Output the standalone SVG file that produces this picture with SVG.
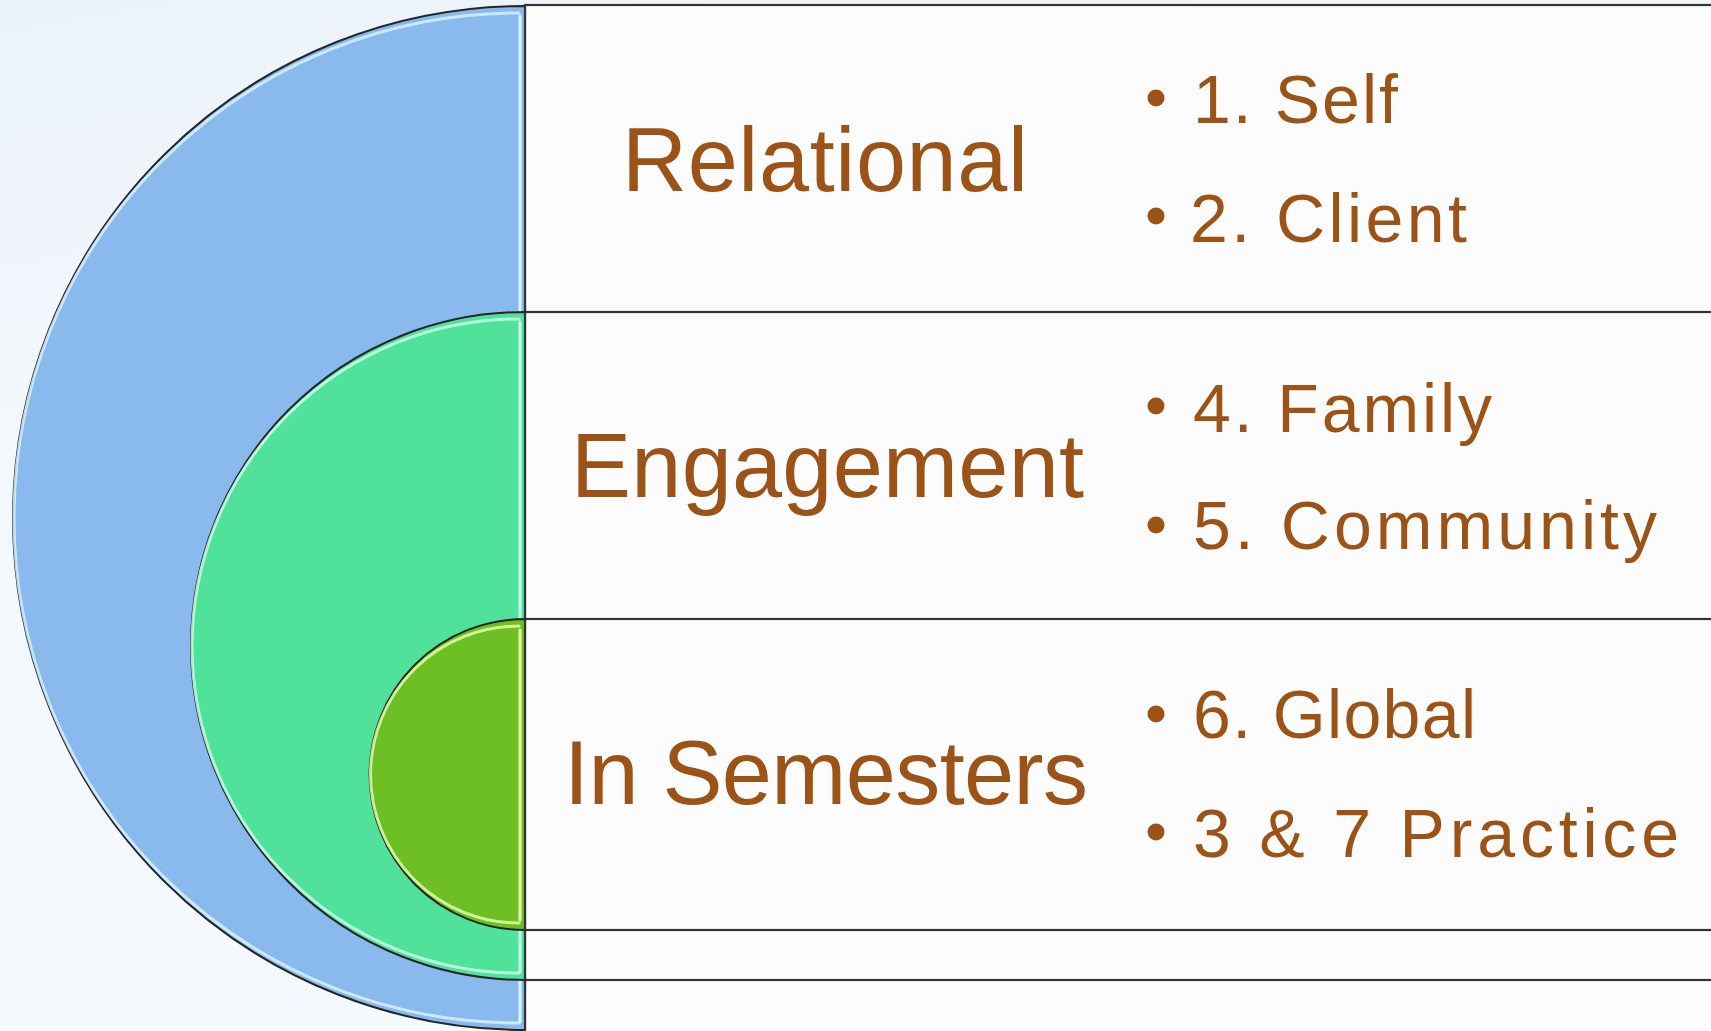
<svg xmlns="http://www.w3.org/2000/svg" width="1711" height="1031" viewBox="0 0 1711 1031">
<defs>
<linearGradient id="bg" x1="0" y1="0" x2="0.3" y2="1">
<stop offset="0" stop-color="#ebf2f9"/>
<stop offset="0.4" stop-color="#f3f8fc"/>
<stop offset="1" stop-color="#f6f9fd"/>
</linearGradient>
<style>
.box{fill:#fcfcfc;stroke:#333;stroke-width:2.2}
.edge{stroke:#262626;stroke-width:2}
.hl{fill:none;stroke-width:3;stroke-linecap:round}
.lbl{font-family:"Liberation Sans",Arial,sans-serif;font-size:90px;fill:#9b5317}
.item{font-family:"Liberation Sans",Arial,sans-serif;font-size:68px;fill:#9b5317}
.dot{fill:#9b5317}
</style>
</defs>
<rect x="0" y="0" width="1711" height="1031" fill="url(#bg)"/>

<g id="node-relational">
<rect class="box" x="525" y="5" width="1200" height="1040"/>
<path class="edge" d="M525,6 A512,512 0 0 0 525,1030 Z" fill="#8abaed"/>
<path class="hl" d="M519,13 A505,505 0 0 0 519,1023" stroke="#d6f1ff" opacity="0.85"/>
<line class="hl" x1="520" y1="16" x2="520" y2="1022" stroke="#d6f7ff"/>
<line x1="525" y1="5" x2="525" y2="1031" stroke="#333" stroke-width="2.2"/>
<text class="lbl" x="622" y="191" textLength="406" lengthAdjust="spacing">Relational</text>
<circle class="dot" cx="1156" cy="98" r="8.5"/>
<text class="item" x="1193" y="123" textLength="205" lengthAdjust="spacing">1. Self</text>
<circle class="dot" cx="1156" cy="216" r="8.5"/>
<text class="item" x="1190" y="242" textLength="277" lengthAdjust="spacing">2. Client</text>
</g>

<g id="node-engagement">
<rect class="box" x="525" y="312" width="1200" height="668"/>
<path class="edge" d="M525,312 A334,334 0 0 0 525,980 Z" fill="#50e29b"/>
<path class="hl" d="M519,319 A327,327 0 0 0 519,973" stroke="#c8ffe6" opacity="0.85"/>
<line class="hl" x1="520" y1="322" x2="520" y2="972" stroke="#c8fff0"/>
<line x1="525" y1="312" x2="525" y2="980" stroke="#333" stroke-width="2.2"/>
<text class="lbl" x="571" y="497" textLength="513" lengthAdjust="spacing">Engagement</text>
<circle class="dot" cx="1156" cy="406" r="8.5"/>
<text class="item" x="1193" y="432" textLength="299" lengthAdjust="spacing">4. Family</text>
<circle class="dot" cx="1156" cy="525" r="8.5"/>
<text class="item" x="1193" y="549" textLength="464" lengthAdjust="spacing">5. Community</text>
</g>

<g id="node-semesters">
<rect class="box" x="525" y="619" width="1200" height="311"/>
<path class="edge" d="M525,619 A155.5,155.5 0 0 0 525,930 Z" fill="#6ebf24"/>
<path class="hl" d="M519,626 A148.5,148.5 0 0 0 519,923" stroke="#e0ffa8" opacity="0.85"/>
<line class="hl" x1="520" y1="630" x2="520" y2="920" stroke="#e4ffa8"/>
<line x1="525" y1="619" x2="525" y2="930" stroke="#333" stroke-width="2.2"/>
<text class="lbl" x="564" y="804" textLength="524" lengthAdjust="spacing">In Semesters</text>
<circle class="dot" cx="1156" cy="714" r="8.5"/>
<text class="item" x="1193" y="738" textLength="283" lengthAdjust="spacing">6. Global</text>
<circle class="dot" cx="1156" cy="832" r="8.5"/>
<text class="item" x="1193" y="857" textLength="486" lengthAdjust="spacing">3 &amp; 7 Practice</text>
</g>

<g id="connectors"/>
</svg>
